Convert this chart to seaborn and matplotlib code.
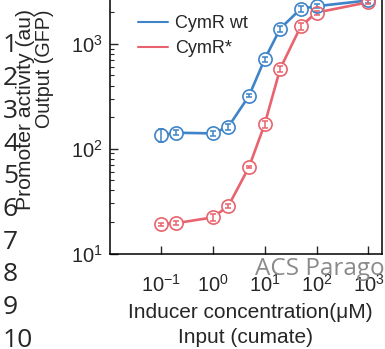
import matplotlib
matplotlib.use("Agg")
import matplotlib.pyplot as plt
import seaborn as sns
import pandas as pd
from matplotlib.lines import Line2D

# ---- data ----
conc = [0.1, 0.2, 1, 2, 5, 10, 20, 50, 100, 1000]
wt_vals = [135, 142, 140, 162, 319, 713, 1400, 2170, 2290, 2600]
wt_err = [20, 8, 8, 10, 10, 45, 95, 140, 110, 150]
star_vals = [19.1, 19.5, 22.1, 28.4, 66.8, 171, 581, 1480, 1990, 2500]
star_err = [0.6, 0.9, 1.5, 1.0, 2.0, 14, 40, 110, 90, 120]
series_names = ["CymR wt", "CymR*"]
colors = ["#3f84c8", "#e8636d"]
line_numbers = [str(i) for i in range(1, 11)]

df = pd.DataFrame({
    "conc": conc * 2,
    "value": wt_vals + star_vals,
    "series": [series_names[0]] * len(conc) + [series_names[1]] * len(conc),
})

sns.set_style("ticks")
plt.rcParams["font.family"] = ["Liberation Sans", "DejaVu Sans"]
plt.rcParams["mathtext.default"] = "regular"

fig = plt.figure(figsize=(3.85, 3.49), dpi=100)
W, H = 385, 349
ax = fig.add_axes([110 / W, 1 - 253.5 / H, (381.7 - 110) / W, 253.5 / H])

sns.lineplot(data=df, x="conc", y="value", hue="series", palette=colors,
             hue_order=series_names, linewidth=1.9, ax=ax, legend=False,
             zorder=2)
for vals, errs, c in [(wt_vals, wt_err, colors[0]), (star_vals, star_err, colors[1])]:
    ax.errorbar(conc, vals, yerr=errs, fmt="none", ecolor=c, elinewidth=1.1,
                capsize=2.2, capthick=1.1, zorder=4, clip_on=False)
    ax.plot(conc, vals, linestyle="none", marker="o", markersize=9.5,
            markerfacecolor="none", markeredgecolor=c, markeredgewidth=1.2,
            zorder=5, clip_on=False)
    ax.plot(conc, vals, linestyle="none", marker="o", markersize=9.0,
            markerfacecolor="white", markeredgecolor="none", zorder=3,
            clip_on=False)

ax.set_xscale("log")
ax.set_yscale("log")
ax.set_xlim(0.0105, 1800)
ax.set_ylim(10, 10 ** (1 + 253.5 / 104.8))
ax.set_xticks([0.1, 1, 10, 100, 1000])
ax.set_yticks([10, 100, 1000])
ax.tick_params(which="major", direction="in", length=6, width=1, labelsize=14.5)
ax.tick_params(which="minor", direction="in", length=3, width=0.8)
ax.tick_params(axis="y", which="major", pad=5)
ax.tick_params(axis="x", which="major", pad=15)
ax.spines["top"].set_visible(False)
for s in ["left", "bottom", "right"]:
    ax.spines[s].set_linewidth(1.1)
    ax.spines[s].set_color("black")
ax.set_xlabel("")
ax.set_ylabel("")

handles = [Line2D([], [], color=c, linewidth=1.5) for c in colors]
ax.legend(handles, series_names, loc="upper left", frameon=False,
          fontsize=13, handlelength=1.65, handletextpad=0.4,
          labelspacing=0.45, borderaxespad=0,
          bbox_to_anchor=((131 - 110) / (381.7 - 110), 1 - 8 / 253.5))


def fx(x):
    return x / W


def fy(y):
    return 1 - y / H


fig.text(fx(250.5), fy(318), "Inducer concentration(\u03bcM)", ha="center",
         va="baseline", fontsize=15)
fig.text(fx(245), fy(343), "Input (cumate)", ha="center", va="baseline",
         fontsize=15)
fig.text(fx(26), fy(109), "Promoter activity (au)", rotation=90, ha="center",
         va="center", fontsize=15.2)
fig.text(fx(45), fy(69), "Output (GFP)", rotation=90, ha="center",
         va="center", fontsize=14.2)

for i, t in enumerate(line_numbers):
    fig.text(fx(3), fy(46 + i * 32.7), t, ha="left", va="center",
             fontsize=19, family=["Open Sans", "DejaVu Sans"])

fig.text(fx(255), fy(275), "ACS Paragon Plus Environment", ha="left",
         va="baseline", fontsize=17.5, color="#8a8a8a",
         family=["Open Sans", "DejaVu Sans"], zorder=10)

fig.savefig("out.png", dpi=100)
